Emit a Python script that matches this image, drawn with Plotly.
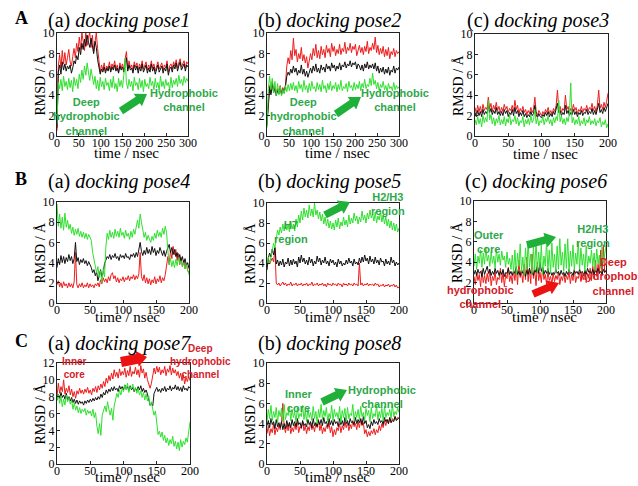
import math
import numpy as np
import plotly.graph_objects as go

W, H = 638, 486

# ---------------- data (RMSD / Å, sampled uniformly over each run) ----------------
pose1_tmax = 300
pose1_red = [0.5, 6.8, 7.9, 6.6, 8.3, 7.0, 8.1, 6.9, 7.6, 8.4,
             7.2, 6.8, 7.7, 8.5, 7.6, 9.0, 8.2, 9.6, 8.4, 10.0,
             9.2, 8.3, 10.0, 8.8, 9.6, 10.0, 8.6, 9.8, 8.2, 9.4,
             10.0, 8.5, 7.2, 6.2, 6.9, 6.4, 7.1, 6.3, 6.8, 6.5,
             7.2, 6.4, 7.0, 6.6, 7.3, 6.5, 6.9, 6.2, 7.1, 6.6,
             7.0, 6.4, 7.5, 8.2, 6.5, 7.3, 6.6, 6.9, 6.3, 7.2,
             6.7, 7.1, 6.4, 7.0, 6.6, 7.3, 6.5, 6.8, 7.2, 6.4,
             6.9, 6.5, 7.3, 6.6, 7.0, 6.3, 6.9, 7.2, 6.5, 6.8,
             7.1, 6.4, 6.9, 6.6, 7.3, 6.2, 6.8, 7.0, 6.5, 7.2,
             6.8, 7.4, 6.6, 7.1, 7.5, 6.7, 7.0, 7.3, 6.6, 7.2, 7.0]
pose1_black = [0.8, 6.2, 6.9, 6.0, 7.2, 6.4, 7.0, 6.3, 6.8, 6.5,
               6.9, 6.1, 6.6, 7.3, 7.0, 7.8, 7.4, 8.6, 7.9, 9.0,
               8.4, 9.4, 8.7, 9.8, 9.1, 8.6, 9.5, 8.8, 8.0, 9.2,
               8.6, 7.4, 6.6, 6.0, 6.5, 6.2, 6.7, 6.1, 6.6, 6.3,
               6.8, 6.2, 6.7, 6.4, 6.9, 6.3, 6.6, 6.1, 6.8, 6.4,
               6.7, 6.2, 7.0, 7.6, 6.3, 6.9, 6.4, 6.6, 6.1, 6.9,
               6.4, 6.8, 6.1, 6.7, 6.3, 7.0, 6.2, 6.5, 6.9, 6.1,
               6.6, 6.2, 7.0, 6.3, 6.7, 6.0, 6.6, 6.9, 6.2, 6.5,
               6.8, 6.1, 6.6, 6.3, 7.0, 5.9, 6.5, 6.7, 6.2, 6.9,
               6.5, 7.1, 6.3, 6.8, 7.2, 6.4, 6.7, 7.0, 6.3, 6.9, 6.7]
pose1_green = [1.2, 5.2, 4.6, 5.5, 4.4, 5.8, 4.8, 5.3, 4.5, 5.6,
               4.7, 5.4, 4.3, 5.7, 4.9, 5.5, 4.6, 6.0, 5.2, 6.4,
               5.5, 6.8, 5.9, 7.1, 6.2, 5.4, 6.5, 5.6, 5.0, 5.8,
               4.6, 5.4, 4.4, 5.7, 4.8, 5.3, 4.5, 5.6, 4.9, 5.2,
               4.4, 5.5, 4.7, 5.8, 4.6, 5.1, 4.3, 5.6, 4.8, 5.4,
               4.7, 5.9, 7.5, 5.2, 4.6, 5.5, 4.8, 5.3, 4.4, 5.7,
               4.9, 5.2, 4.5, 5.6, 4.7, 5.4, 4.3, 5.5, 4.8, 5.1,
               4.6, 5.7, 4.9, 5.3, 4.5, 5.6, 4.7, 5.2, 4.4, 5.8,
               4.8, 5.3, 4.6, 5.5, 4.9, 5.2, 4.5, 5.7, 4.7, 5.4,
               5.0, 5.6, 4.8, 5.9, 5.1, 5.5, 4.9, 5.8, 5.2, 5.6, 5.3]

pose2_tmax = 300
pose2_red = [1.5, 3.8, 4.9, 4.2, 5.3, 4.4, 4.8, 4.1, 4.6, 4.3,
             4.9, 4.2, 4.7, 4.4, 5.0, 6.8, 7.6, 7.0, 8.3, 7.4,
             9.5, 7.8, 8.4, 7.2, 8.0, 7.5, 8.6, 7.3, 7.9, 7.1,
             7.7, 6.6, 7.3, 8.0, 7.4, 8.5, 7.8, 8.9, 7.6, 8.3,
             7.5, 8.7, 7.9, 8.4, 7.6, 8.8, 8.1, 8.5, 7.7, 9.0,
             8.2, 8.7, 7.8, 8.4, 8.0, 8.9, 7.9, 8.5, 8.2, 9.1,
             8.0, 8.6, 8.3, 9.0, 8.1, 8.7, 8.4, 8.9, 7.8, 8.5,
             8.8, 8.1, 8.6, 7.9, 8.7, 8.2, 9.2, 8.0, 8.6, 8.3,
             9.0, 8.4, 9.6, 8.1, 8.8, 7.9, 8.5, 8.0, 8.7, 7.7,
             8.4, 7.8, 8.6, 7.5, 8.2, 7.9, 8.5, 7.7, 8.3, 8.0, 8.2]
pose2_black = [1.0, 3.5, 4.7, 4.0, 5.1, 4.2, 4.6, 3.9, 4.4, 4.1,
               4.6, 4.0, 4.5, 4.2, 4.8, 5.8, 6.2, 5.9, 6.5, 6.1,
               6.8, 6.2, 6.6, 5.9, 6.4, 6.1, 6.9, 6.0, 6.5, 5.8,
               6.3, 5.7, 6.2, 6.6, 6.1, 6.8, 6.3, 7.0, 6.2, 6.6,
               6.1, 6.9, 6.4, 6.7, 6.2, 7.0, 6.5, 6.8, 6.3, 7.1,
               6.6, 6.9, 6.3, 6.8, 6.5, 7.1, 6.4, 6.9, 6.7, 7.2,
               6.6, 7.0, 6.8, 7.3, 6.7, 7.1, 6.9, 7.2, 6.5, 7.0,
               6.8, 6.4, 6.9, 6.3, 7.0, 6.6, 7.2, 6.5, 6.9, 6.6,
               7.0, 6.5, 7.1, 6.3, 6.8, 6.1, 6.6, 6.2, 6.7, 6.0,
               6.5, 6.1, 6.7, 5.9, 6.4, 6.2, 6.8, 6.1, 6.6, 6.4, 6.7]
pose2_green = [0.8, 4.6, 5.8, 4.5, 5.6, 4.2, 5.3, 3.9, 5.1, 4.0,
               4.8, 3.9, 4.5, 4.1, 4.9, 4.3, 5.0, 4.4, 5.1, 4.5,
               5.2, 4.4, 4.9, 4.2, 5.3, 4.6, 5.0, 4.3, 5.4, 4.5,
               4.9, 4.2, 5.1, 4.4, 5.3, 4.6, 4.8, 4.3, 5.2, 4.5,
               5.0, 4.3, 5.4, 4.6, 4.9, 4.2, 5.1, 4.5, 5.3, 4.4,
               4.9, 4.6, 5.2, 4.3, 5.0, 4.5, 5.4, 4.4, 4.8, 4.6,
               5.1, 4.3, 5.3, 4.7, 4.9, 4.4, 5.2, 4.5, 5.0, 4.6,
               5.3, 4.4, 5.1, 4.7, 5.5, 4.6, 5.0, 4.8, 5.6, 4.9,
               6.1, 5.0, 5.4, 4.6, 5.2, 4.4, 5.0, 4.7, 5.3, 4.5,
               4.9, 4.3, 5.1, 4.6, 4.8, 4.4, 5.2, 4.5, 4.9, 4.6, 4.8]

pose3_tmax = 200
pose3_red = [2.8, 2.2, 3.0, 2.4, 2.9, 2.3, 3.1, 2.5, 2.8, 2.6,
             3.8, 2.7, 3.2, 2.4, 3.0, 2.6, 3.3, 2.5, 2.9, 2.3,
             2.8, 2.4, 3.1, 2.6, 2.9, 2.3, 2.7, 2.5, 3.0, 2.4,
             3.5, 2.6, 3.0, 2.2, 2.7, 2.4, 2.9, 2.3, 2.6, 2.1,
             2.5, 2.2, 2.8, 2.3, 2.6, 3.8, 2.4, 2.0, 2.5, 2.2,
             2.0, 2.4, 2.1, 2.6, 2.3, 2.8, 2.2, 2.5, 2.1, 2.7,
             2.4, 3.0, 4.5, 2.6, 2.9, 2.3, 2.7, 2.5, 4.0, 2.6,
             2.9, 2.3, 2.7, 2.4, 3.1, 2.5, 2.8, 2.2, 2.6, 2.4,
             2.9, 2.3, 2.7, 2.5, 3.0, 2.4, 2.8, 2.6, 3.2, 2.5,
             2.9, 2.4, 3.0, 4.5, 2.7, 3.1, 2.6, 3.3, 2.8, 3.4, 4.2]
pose3_black = [2.3, 1.9, 2.5, 2.0, 2.4, 1.9, 2.6, 2.1, 2.4, 2.2,
               3.0, 2.3, 2.7, 2.1, 2.5, 2.2, 2.8, 2.1, 2.4, 2.0,
               2.4, 2.0, 2.6, 2.2, 2.5, 1.9, 2.3, 2.1, 2.6, 2.0,
               2.8, 2.2, 2.5, 1.9, 2.3, 2.0, 2.5, 1.9, 2.2, 1.8,
               2.1, 1.9, 2.4, 2.0, 2.2, 3.0, 2.1, 1.8, 2.2, 1.9,
               1.8, 2.1, 1.9, 2.3, 2.0, 2.4, 1.9, 2.2, 1.9, 2.4,
               2.1, 2.6, 3.2, 2.3, 2.5, 2.0, 2.3, 2.1, 3.0, 2.2,
               2.5, 2.0, 2.3, 2.1, 2.6, 2.1, 2.4, 1.9, 2.3, 2.1,
               2.5, 2.0, 2.3, 2.2, 2.6, 2.1, 2.4, 2.2, 2.7, 2.1,
               2.5, 2.1, 2.6, 3.2, 2.3, 2.6, 2.2, 2.8, 2.4, 2.9, 3.2]
pose3_green = [1.6, 1.1, 1.9, 1.2, 1.7, 0.9, 2.0, 1.3, 1.8, 1.4,
               3.5, 1.6, 2.1, 1.2, 1.8, 1.0, 1.7, 1.3, 2.0, 1.1,
               1.6, 1.2, 1.9, 1.0, 1.7, 1.3, 2.1, 1.1, 1.6, 1.4,
               2.0, 1.2, 1.8, 1.0, 1.5, 1.3, 1.9, 0.9, 1.6, 1.2,
               1.7, 1.1, 2.0, 1.3, 1.6, 2.6, 1.2, 1.8, 1.0, 1.5,
               1.3, 1.9, 1.1, 1.7, 1.4, 2.0, 1.2, 1.6, 1.0, 1.8,
               1.3, 1.9, 1.5, 3.5, 1.4, 2.0, 1.2, 1.7, 1.1, 1.8,
               1.4, 2.2, 5.2, 1.3, 1.8, 1.1, 1.6, 1.2, 1.9, 1.0,
               1.5, 1.2, 1.8, 1.0, 1.6, 1.3, 1.9, 1.1, 1.5, 1.2,
               1.7, 1.0, 1.5, 1.3, 1.8, 0.9, 1.4, 1.1, 1.6, 0.8, 1.2]

pose4_tmax = 200
pose4_red = [1.8, 2.2, 1.6, 2.0, 1.5, 2.1, 1.7, 1.9, 1.5, 2.0,
             1.6, 1.9, 1.5, 2.1, 5.0, 1.8, 1.5, 1.9, 1.6, 2.0,
             1.5, 1.8, 1.6, 2.0, 1.5, 1.9, 1.6, 1.8, 1.5, 1.9,
             1.7, 2.0, 1.6, 2.3, 1.9, 2.5, 2.1, 2.4, 2.0, 2.6,
             2.2, 2.8, 3.0, 2.4, 2.7, 2.1, 2.5, 2.0, 2.4, 2.2,
             2.6, 2.1, 2.5, 2.3, 2.7, 2.2, 2.6, 2.4, 2.8, 2.3,
             2.7, 2.4, 2.9, 5.0, 2.6, 2.2, 2.8, 2.0, 2.5, 1.9,
             2.4, 1.8, 2.3, 2.0, 2.6, 1.9, 2.4, 2.1, 2.7, 2.0,
             2.5, 2.2, 2.8, 3.5, 4.6, 3.8, 5.2, 4.4, 5.6, 4.8,
             5.3, 4.2, 4.9, 3.8, 4.5, 3.6, 4.2, 3.4, 3.9, 3.2, 3.0]
pose4_black = [3.5, 4.4, 3.8, 4.7, 4.0, 4.6, 3.9, 4.5, 4.1, 4.8,
               4.2, 4.6, 3.9, 4.4, 6.0, 4.1, 4.5, 3.8, 4.3, 4.0,
               4.4, 3.9, 4.2, 3.7, 4.1, 3.8, 3.5, 3.0, 3.3, 2.7,
               3.1, 2.2, 2.8, 3.3, 2.6, 3.0, 3.9, 4.3, 4.6, 4.4,
               4.8, 4.3, 4.7, 4.5, 4.9, 4.4, 4.6, 4.2, 4.8, 4.5,
               4.7, 4.4, 4.9, 4.5, 4.6, 4.3, 4.8, 4.6, 4.9, 4.5,
               5.0, 4.6, 5.3, 6.0, 5.1, 4.7, 5.2, 4.8, 5.5, 4.9,
               5.3, 4.8, 5.6, 5.0, 5.4, 4.7, 5.2, 4.9, 5.5, 5.0,
               4.7, 5.2, 4.6, 5.1, 5.4, 5.8, 5.0, 5.5, 4.8, 5.3,
               4.6, 5.0, 4.3, 4.8, 4.1, 4.6, 3.9, 4.4, 3.7, 4.0, 3.4]
pose4_green = [9.8, 7.6, 8.8, 7.4, 8.5, 7.2, 8.9, 7.5, 8.2, 7.3,
               7.8, 6.9, 7.5, 6.7, 7.3, 6.8, 7.4, 6.6, 7.1, 6.5,
               7.0, 6.4, 6.9, 6.3, 6.8, 6.5, 6.2, 5.0, 4.2, 3.5,
               3.0, 3.6, 2.5, 3.2, 2.0, 3.4, 2.6, 5.5, 6.9, 6.3,
               7.2, 6.5, 7.0, 6.4, 7.3, 6.6, 7.1, 6.5, 7.4, 6.7,
               7.0, 6.4, 7.2, 6.6, 6.9, 6.3, 7.1, 6.5, 7.3, 6.8,
               7.6, 8.2, 7.4, 8.8, 8.0, 7.1, 6.5, 7.0, 6.2, 6.7,
               6.3, 6.0, 6.6, 6.2, 6.9, 6.4, 7.2, 6.6, 7.0, 6.5,
               7.4, 6.8, 7.6, 7.0, 5.2, 3.8, 4.4, 3.6, 4.2, 3.5,
               4.3, 3.7, 4.5, 3.9, 4.2, 3.6, 4.0, 3.4, 3.8, 3.1, 2.8]

pose5_tmax = 200
pose5_red = [4.0, 4.4, 3.9, 4.3, 4.5, 4.1, 5.5, 2.0, 1.8, 2.0,
             1.7, 1.9, 2.1, 1.8, 2.0, 1.7, 1.9, 1.8, 2.1, 1.7,
             1.9, 1.8, 2.0, 1.7, 1.9, 1.8, 2.0, 1.7, 1.9, 1.8,
             2.0, 1.7, 1.9, 1.8, 2.1, 1.7, 1.9, 1.8, 2.0, 1.7,
             1.9, 1.8, 2.0, 1.7, 1.9, 1.6, 2.0, 1.8, 1.9, 1.7,
             2.0, 1.8, 1.9, 1.7, 2.0, 1.8, 1.9, 1.6, 2.0, 1.8,
             1.9, 1.7, 2.0, 1.8, 1.9, 1.7, 2.0, 1.8, 1.9, 1.7,
             4.0, 1.8, 2.0, 1.7, 1.9, 1.8, 2.0, 1.7, 1.9, 1.8,
             1.9, 1.7, 2.0, 1.8, 1.9, 1.6, 1.8, 1.7, 1.9, 1.6,
             1.8, 1.7, 1.9, 1.6, 1.8, 1.7, 1.9, 1.6, 1.8, 1.5, 1.6]
pose5_black = [3.3, 4.5, 5.0, 4.6, 5.4, 4.8, 5.6, 3.9, 4.3, 3.7,
               4.2, 3.8, 4.4, 3.6, 4.1, 3.9, 4.5, 3.7, 4.3, 3.8,
               4.4, 3.9, 4.2, 3.6, 4.6, 4.0, 4.8, 4.1, 4.5, 3.9,
               4.3, 3.8, 4.6, 4.0, 4.4, 3.7, 4.2, 3.9, 4.7, 4.1,
               4.5, 3.8, 4.3, 4.0, 4.6, 3.9, 4.2, 3.7, 4.4, 4.0,
               4.3, 3.8, 4.1, 3.6, 4.4, 3.9, 4.2, 3.7, 4.0, 3.8,
               4.3, 3.9, 4.5, 4.0, 4.2, 3.7, 4.4, 3.9, 4.1, 3.8,
               4.5, 4.0, 4.6, 4.1, 4.8, 4.2, 4.5, 3.9, 4.7, 4.1,
               4.4, 3.9, 4.6, 4.0, 4.3, 3.8, 4.5, 4.1, 4.2, 3.7,
               4.4, 3.9, 4.2, 3.8, 4.6, 4.0, 4.3, 3.7, 4.1, 3.8, 4.0]
pose5_green = [4.0, 4.6, 3.9, 4.5, 5.4, 6.0, 5.5, 6.4, 7.3, 6.8,
               7.6, 7.0, 7.9, 7.2, 8.0, 7.3, 7.8, 7.1, 8.2, 7.4,
               7.9, 7.2, 8.4, 7.6, 8.8, 8.0, 9.2, 8.3, 9.5, 8.6,
               9.3, 8.5, 9.8, 8.7, 9.4, 8.6, 10.0, 8.8, 9.3, 8.4,
               9.1, 8.2, 8.9, 7.9, 8.6, 7.7, 8.4, 7.5, 8.2, 7.4,
               8.0, 7.3, 8.3, 7.6, 8.5, 7.4, 8.1, 7.7, 8.6, 7.8,
               8.3, 7.6, 8.8, 7.9, 8.5, 8.0, 9.0, 8.2, 8.7, 7.9,
               8.6, 8.1, 9.2, 8.3, 8.8, 8.0, 9.0, 8.4, 9.3, 8.5,
               8.9, 8.2, 9.1, 8.0, 8.7, 8.3, 9.2, 8.1, 8.8, 7.9,
               8.6, 7.7, 8.4, 7.5, 8.2, 7.3, 8.0, 7.2, 7.9, 7.1, 7.5]

pose6_tmax = 200
pose6_red = [2.6, 1.8, 3.0, 2.2, 2.8, 1.6, 3.2, 2.0, 2.7, 1.9,
             2.9, 2.1, 3.3, 1.7, 2.6, 2.2, 3.1, 1.8, 2.5, 2.3,
             3.4, 2.0, 3.0, 1.6, 2.8, 2.4, 3.5, 2.1, 2.7, 1.9,
             3.2, 2.2, 3.6, 1.8, 4.2, 2.5, 3.0, 2.0, 3.8, 2.3,
             4.5, 2.1, 3.4, 1.9, 4.8, 2.4, 3.2, 1.7, 4.0, 2.2,
             3.0, 2.0, 3.5, 2.3, 2.8, 1.8, 3.1, 2.2, 2.6, 1.9,
             2.9, 2.1, 2.7, 2.3, 3.0, 1.8, 2.6, 2.2, 2.9, 2.0,
             2.7, 2.3, 3.1, 1.9, 2.8, 2.2, 3.3, 2.0, 2.6, 2.4,
             3.0, 2.1, 2.7, 2.3, 3.2, 2.0, 2.9, 2.5, 3.4, 2.2,
             3.6, 2.4, 4.2, 2.6, 3.8, 2.9, 5.2, 2.7, 5.7, 3.0, 3.2]
pose6_black = [2.8, 3.2, 2.7, 3.3, 2.9, 3.1, 2.6, 3.4, 2.8, 3.2,
               3.6, 2.9, 3.3, 2.7, 3.1, 2.8, 3.4, 2.9, 3.2, 2.7,
               3.1, 2.8, 3.3, 2.6, 3.0, 2.9, 3.4, 2.8, 3.1, 2.7,
               3.2, 2.9, 3.5, 2.8, 3.1, 2.7, 3.3, 2.9, 3.0, 2.6,
               3.2, 2.8, 3.4, 2.9, 3.1, 2.7, 3.3, 3.0, 3.6, 2.9,
               4.0, 3.1, 3.5, 2.8, 3.2, 2.9, 3.4, 2.8, 3.1, 2.7,
               3.0, 2.8, 3.3, 2.9, 3.1, 2.7, 3.2, 2.8, 3.0, 2.6,
               3.1, 2.8, 3.3, 2.9, 3.0, 2.7, 3.2, 2.9, 3.1, 2.8,
               3.3, 2.9, 3.1, 2.7, 3.2, 2.8, 3.4, 3.0, 3.1, 2.9,
               3.3, 2.8, 3.2, 3.0, 3.4, 2.9, 3.1, 2.8, 3.3, 3.0, 3.2]
pose6_green = [3.6, 4.8, 3.3, 4.6, 3.9, 5.2, 3.5, 4.9, 3.8, 5.5,
               4.1, 4.7, 3.6, 5.0, 3.9, 4.6, 3.4, 5.3, 4.0, 4.8,
               3.7, 5.1, 4.2, 4.6, 3.5, 5.0, 3.8, 4.4, 3.3, 4.7,
               3.0, 5.2, 2.8, 4.9, 3.6, 5.8, 3.1, 4.5, 2.7, 5.4,
               3.3, 6.0, 3.5, 4.8, 2.9, 5.5, 3.2, 6.2, 3.0, 5.0,
               3.4, 5.7, 2.8, 4.6, 3.6, 6.1, 3.1, 5.2, 2.9, 5.9,
               3.5, 4.8, 3.0, 5.6, 3.3, 6.3, 3.7, 5.0, 3.1, 5.8,
               3.4, 6.3, 3.0, 5.1, 3.6, 5.7, 3.2, 4.9, 3.8, 6.0,
               3.3, 5.4, 3.7, 4.8, 3.1, 5.6, 3.5, 4.6, 3.9, 5.2,
               3.6, 4.9, 3.2, 5.3, 3.8, 4.7, 3.4, 5.5, 3.9, 4.6, 5.6]

pose7_tmax = 200
pose7_red = [8.0, 9.6, 8.4, 9.2, 8.6, 10.0, 8.3, 9.0, 8.5, 9.3,
             8.2, 8.9, 8.0, 8.6, 7.8, 8.7, 8.3, 9.0, 8.4, 8.8,
             8.3, 8.9, 8.5, 9.1, 8.4, 8.8, 8.2, 9.0, 8.6, 9.2,
             8.5, 9.3, 8.8, 9.5, 9.0, 9.8, 9.2, 10.2, 9.6, 10.5,
             9.9, 10.8, 10.1, 11.2, 10.4, 10.9, 10.2, 11.3, 10.5, 11.0,
             10.6, 11.4, 10.3, 11.1, 10.5, 11.6, 10.4, 11.0, 10.7, 11.5,
             10.6, 11.2, 10.3, 11.7, 10.8, 11.3, 10.2, 10.9, 10.0, 9.4,
             9.0, 9.6, 10.5, 11.4, 10.7, 11.6, 10.9, 11.5, 10.6, 11.2,
             10.8, 11.6, 10.5, 11.3, 10.9, 11.7, 10.6, 11.4, 10.8, 11.2,
             10.5, 11.0, 10.2, 10.8, 9.9, 10.6, 9.5, 10.3, 9.8, 10.4, 9.9]
pose7_black = [7.6, 8.3, 7.8, 8.5, 7.9, 8.2, 7.7, 8.4, 7.6, 8.0,
               7.5, 7.9, 7.3, 7.7, 7.2, 7.6, 7.1, 7.5, 7.2, 7.4,
               7.0, 7.5, 7.2, 7.6, 7.3, 7.7, 7.4, 7.8, 7.5, 7.9,
               7.6, 8.0, 7.7, 8.3, 7.9, 8.5, 8.2, 8.8, 8.4, 8.9,
               8.6, 9.1, 8.7, 9.2, 8.8, 9.0, 8.6, 9.3, 8.9, 9.2,
               8.8, 9.4, 8.9, 9.2, 8.7, 9.3, 8.8, 9.1, 8.6, 9.0,
               8.7, 9.2, 8.8, 9.3, 8.6, 9.0, 8.5, 8.8, 8.3, 7.4,
               7.0, 7.2, 6.9, 8.4, 8.7, 9.1, 8.6, 8.9, 8.5, 9.0,
               8.7, 9.2, 8.6, 9.0, 8.8, 9.3, 8.7, 9.1, 8.9, 9.4,
               8.8, 9.2, 8.7, 9.1, 8.6, 9.3, 8.8, 9.0, 8.7, 9.2, 9.0]
pose7_green = [7.5, 8.3, 7.2, 8.0, 6.8, 7.7, 7.0, 8.2, 7.4, 7.9,
               7.1, 7.6, 6.5, 7.3, 6.4, 6.9, 6.1, 6.7, 6.0, 6.5,
               6.2, 6.6, 5.8, 6.4, 6.0, 6.3, 5.7, 6.5, 5.5, 6.1,
               4.5, 3.6, 4.8, 3.4, 5.8, 6.4, 6.9, 6.2, 7.4, 6.5,
               5.8, 6.6, 5.2, 6.9, 7.8, 8.4, 7.9, 8.8, 8.2, 9.0,
               8.6, 9.4, 8.8, 9.6, 8.5, 9.2, 8.9, 9.5, 8.7, 9.1,
               8.4, 9.0, 8.2, 8.7, 7.9, 8.5, 7.6, 8.3, 7.5, 8.1,
               6.9, 7.4, 6.5, 5.8, 6.3, 4.4, 3.5, 3.9, 3.2, 3.8,
               2.8, 3.4, 2.5, 3.1, 2.2, 2.9, 2.4, 3.3, 2.1, 2.7,
               1.8, 2.6, 1.6, 2.9, 2.0, 2.7, 2.3, 3.1, 2.6, 3.8, 5.0]

pose8_tmax = 200
pose8_red = [3.0, 3.8, 2.8, 3.5, 3.1, 4.0, 2.9, 3.6, 3.2, 3.9,
             3.4, 4.2, 6.0, 3.7, 3.1, 3.9, 3.3, 4.1, 3.0, 3.6,
             3.2, 3.9, 3.4, 4.3, 3.1, 3.7, 3.5, 4.2, 3.3, 3.8,
             3.0, 3.7, 3.3, 4.1, 3.4, 3.8, 3.2, 4.0, 3.6, 4.4,
             3.3, 3.9, 3.0, 3.6, 3.2, 3.8, 3.5, 4.1, 3.1, 3.7,
             2.7, 3.4, 2.9, 3.6, 3.3, 4.0, 3.1, 3.8, 3.4, 4.2,
             3.6, 4.1, 3.3, 3.9, 3.5, 4.3, 3.7, 4.0, 3.4, 4.2,
             3.6, 4.4, 3.8, 4.1, 3.0, 3.4, 2.7, 3.2, 2.8, 3.3,
             3.0, 3.5, 2.9, 3.4, 3.1, 3.8, 3.3, 4.0, 3.6, 4.3,
             3.8, 4.4, 4.0, 4.6, 4.1, 4.5, 4.3, 4.7, 4.4, 4.6, 4.5]
pose8_black = [3.8, 4.3, 3.6, 4.5, 3.9, 4.2, 3.5, 4.4, 3.7, 4.1,
               3.6, 4.2, 3.4, 4.0, 3.5, 4.3, 3.7, 4.1, 3.6, 4.4,
               3.8, 4.2, 3.7, 4.5, 3.9, 4.1, 3.6, 4.3, 3.8, 4.0,
               3.7, 4.4, 3.9, 4.2, 3.6, 4.5, 3.8, 4.1, 3.7, 4.3,
               3.9, 4.4, 3.8, 4.6, 4.0, 4.2, 3.7, 4.5, 3.9, 4.3,
               3.8, 4.4, 4.0, 4.2, 3.7, 4.5, 3.9, 4.3, 3.8, 4.6,
               4.0, 4.3, 3.8, 4.5, 4.1, 4.2, 3.9, 4.6, 4.0, 4.4,
               4.1, 4.5, 3.9, 4.7, 4.0, 4.3, 3.6, 3.9, 3.5, 4.2,
               3.8, 4.4, 4.0, 4.2, 3.9, 4.5, 4.1, 4.3, 3.9, 4.6,
               4.2, 4.4, 4.0, 4.6, 4.1, 4.3, 4.2, 4.7, 4.3, 4.5, 4.6]
pose8_green = [4.2, 5.4, 4.5, 5.8, 4.3, 5.2, 4.6, 5.6, 4.1, 5.3,
               4.7, 5.5, 4.2, 5.9, 4.4, 5.1, 4.8, 5.7, 4.3, 5.4,
               4.6, 5.2, 4.1, 5.6, 4.5, 5.0, 4.7, 5.8, 4.4, 5.3,
               4.2, 5.5, 4.6, 5.1, 4.3, 5.7, 4.5, 5.2, 4.0, 5.4,
               4.6, 5.9, 4.4, 5.3, 4.7, 5.6, 4.2, 5.0, 4.5, 5.8,
               4.3, 5.4, 4.7, 5.1, 4.4, 5.7, 4.1, 5.3, 4.6, 5.5,
               4.2, 5.6, 4.5, 5.0, 4.8, 5.9, 4.3, 5.2, 4.6, 5.4,
               4.4, 5.7, 4.7, 5.1, 4.3, 5.5, 4.8, 5.3, 4.2, 5.6,
               4.5, 5.0, 4.7, 5.8, 4.4, 5.2, 4.6, 5.5, 4.3, 5.7,
               4.6, 5.1, 4.8, 5.4, 4.5, 5.9, 4.7, 5.2, 4.9, 5.6, 5.1]

x_ticks_300 = [0, 50, 100, 150, 200, 250, 300]
x_ticks_200 = [0, 50, 100, 150, 200]
y_ticks_10 = [0, 2, 4, 6, 8, 10]
y_ticks_12 = [0, 2, 4, 6, 8, 10, 12]

panel_titles = ["(a) <i>docking pose1</i>", "(b) <i>docking pose2</i>", "(c) <i>docking pose3</i>",
                "(a) <i>docking pose4</i>", "(b) <i>docking pose5</i>", "(c) <i>docking pose6</i>",
                "(a) <i>docking pose7</i>", "(b) <i>docking pose8</i>"]

# ---------------- styling / layout ----------------
RED = "#ee1c1c"
BLACK = "#111111"
GREEN = "#2fe02f"
TXT_GREEN = "#2ea84a"
TXT_RED = "#d6202a"
SERIF = "Liberation Serif, Times New Roman, serif"
SANS = "Liberation Sans, Arial, sans-serif"

series = [
    (pose1_tmax, pose1_red, pose1_black, pose1_green, x_ticks_300, y_ticks_10, 10),
    (pose2_tmax, pose2_red, pose2_black, pose2_green, x_ticks_300, y_ticks_10, 10),
    (pose3_tmax, pose3_red, pose3_black, pose3_green, x_ticks_200, y_ticks_10, 10),
    (pose4_tmax, pose4_red, pose4_black, pose4_green, x_ticks_200, y_ticks_10, 10),
    (pose5_tmax, pose5_red, pose5_black, pose5_green, x_ticks_200, y_ticks_10, 10),
    (pose6_tmax, pose6_red, pose6_black, pose6_green, x_ticks_200, y_ticks_10, 10),
    (pose7_tmax, pose7_red, pose7_black, pose7_green, x_ticks_200, y_ticks_12, 12),
    (pose8_tmax, pose8_red, pose8_black, pose8_green, x_ticks_200, y_ticks_10, 10),
]

# plot boxes in pixels: left, right, top, bottom
boxes = [(57, 188, 33, 136), (267, 399, 33, 136), (475, 608, 34, 136),
         (57, 189, 202, 303), (267, 399, 203, 303), (474, 606, 201, 303),
         (57, 190, 363, 464), (267, 399, 363, 464)]
title_y = [21, 21, 21, 181, 181, 181, 343, 343]
xlab_y = [153, 153, 154, 317, 317, 317, 477, 477]


def px(x):
    return x / W


def py(y):
    return 1 - y / H


fig = go.Figure()
layout = dict(width=W, height=H, margin=dict(l=0, r=0, t=0, b=0),
              paper_bgcolor="white", plot_bgcolor="white", showlegend=False,
              template=None)
annotations = []
shapes = []

for k, ((tmax, red, black, green, xt, yt, ymax), (l, r, t, b)) in enumerate(zip(series, boxes), start=1):
    xa = "x" if k == 1 else f"x{k}"
    ya = "y" if k == 1 else f"y{k}"
    for vals, col in ((red, RED), (black, BLACK), (green, GREEN)):
        tt = np.linspace(0, tmax, len(vals))
        fig.add_trace(go.Scatter(x=tt, y=vals, mode="lines", xaxis=xa, yaxis=ya,
                                 line=dict(color=col, width=1), hoverinfo="skip"))
    common = dict(showline=True, linecolor="#222", linewidth=1, mirror=True, ticks="inside",
                  ticklen=3, tickcolor="#222", showgrid=False, zeroline=False, automargin=False,
                  tickfont=dict(family=SERIF, size=12, color="black"))
    layout["xaxis" if k == 1 else f"xaxis{k}"] = dict(domain=[px(l), px(r)], range=[0, tmax],
                                                       tickvals=xt, anchor=ya, ticklabelstandoff=-4,
                                                       **common)
    layout["yaxis" if k == 1 else f"yaxis{k}"] = dict(domain=[py(b), py(t)], range=[0, ymax],
                                                       tickvals=yt, anchor=xa, ticklabelstandoff=-1,
                                                       **common)
    # axis titles
    annotations.append(dict(text="time / nsec", x=px((l + r) / 2 + 4), y=py(xlab_y[k - 1]),
                            xref="paper", yref="paper", showarrow=False, xanchor="center", yanchor="middle",
                            font=dict(family=SERIF, size=15, color="black")))
    annotations.append(dict(text="RMSD / Å", x=px(l - 17), y=py((t + b) / 2),
                            xref="paper", yref="paper", showarrow=False, textangle=-90,
                            xanchor="center", yanchor="middle",
                            font=dict(family=SERIF, size=14, color="black")))
    annotations.append(dict(text=panel_titles[k - 1], x=px((l + r) / 2 - 4), y=py(title_y[k - 1]),
                            xref="paper", yref="paper", showarrow=False, xanchor="center", yanchor="middle",
                            font=dict(family=SERIF, size=20, color="black")))

# row letters
for letter, yy in (("A", 18), ("B", 179), ("C", 341)):
    annotations.append(dict(text=f"<b>{letter}</b>", x=px(21), y=py(yy), xref="paper", yref="paper",
                            showarrow=False, xanchor="center", yanchor="middle",
                            font=dict(family=SERIF, size=18, color="black")))


def note(text, x, y, color, size=11):
    annotations.append(dict(text=f"<b>{text}</b>", x=px(x), y=py(y), xref="paper", yref="paper",
                            showarrow=False, xanchor="center", yanchor="middle",
                            font=dict(family=SANS, size=size, color=color)))


def block_arrow(x0, y0, x1, y1, color, shaft=3.8, head=7.5, headlen=11):
    dx, dy = x1 - x0, y1 - y0
    L = math.hypot(dx, dy)
    ux, uy = dx / L, dy / L
    nx, ny = -uy, ux
    bx, by = x1 - ux * headlen, y1 - uy * headlen
    pts = [(x0 + nx * shaft, y0 + ny * shaft), (bx + nx * shaft, by + ny * shaft),
           (bx + nx * head, by + ny * head), (x1, y1), (bx - nx * head, by - ny * head),
           (bx - nx * shaft, by - ny * shaft), (x0 - nx * shaft, y0 - ny * shaft)]
    path = "M " + " L ".join(f"{px(a):.5f},{py(c):.5f}" for a, c in pts) + " Z"
    shapes.append(dict(type="path", path=path, xref="paper", yref="paper",
                       fillcolor=color, line=dict(width=0)))


ARROW_GREEN = "#1fb03a"
ARROW_RED = "#ee1111"

# pose1
note("Deep<br>hydrophobic<br>channel", 86, 116, TXT_GREEN)
note("Hydrophobic<br>channel", 184, 100, TXT_GREEN)
block_arrow(121, 111, 147, 94, ARROW_GREEN)
# pose2
note("Deep<br>hydrophobic<br>channel", 303, 116, TXT_GREEN)
note("Hydrophobic<br>channel", 395, 100, TXT_GREEN)
block_arrow(336, 114, 361, 97, ARROW_GREEN)
# pose5
note("H7<br>region", 291, 232, TXT_GREEN)
note("H2/H3<br>region", 388, 204, TXT_GREEN)
block_arrow(325, 215, 350, 202, ARROW_GREEN)
# pose6
note("Outer<br>core", 489, 242, TXT_GREEN)
note("H2/H3<br>region", 593, 236, TXT_GREEN)
note("Deep<br>hydrophobic<br>channel", 613, 276, TXT_RED)
note("hydrophobic<br>channel", 480, 297, TXT_RED)
block_arrow(527, 245, 556, 237, ARROW_GREEN)
block_arrow(533, 294, 559, 283, ARROW_RED)
# pose7
note("Inner<br>core", 74, 368, TXT_RED, 10)
note("Deep<br>hydrophobic<br>channel", 200, 361, TXT_RED, 10)
block_arrow(121, 362, 147, 357, ARROW_RED, shaft=5, head=8, headlen=10)
# pose8
note("Inner<br>core", 299, 401, TXT_GREEN)
note("Hydrophobic<br>channel", 382, 397, TXT_GREEN)
block_arrow(322, 402, 347, 390, ARROW_GREEN)

layout["annotations"] = annotations
layout["shapes"] = shapes
fig.update_layout(**layout)
fig.write_html("out.html", config={"displayModeBar": False},
               post_script="document.body.style.margin='0';document.body.style.overflow='hidden';")
